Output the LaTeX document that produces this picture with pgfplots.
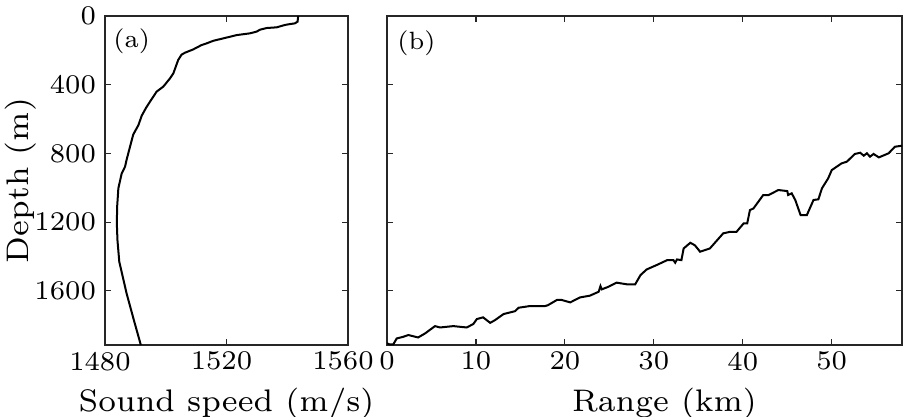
\documentclass[border=0pt]{standalone}
\usepackage{fontspec}
\setmainfont{lmroman7-regular.otf}
\usepackage{pgfplots}
\pgfplotsset{compat=1.18}

\definecolor{axgray}{rgb}{0.15,0.15,0.15}

\pgfplotsset{
  panel/.style={
    scale only axis, height=164.5pt,
    y dir=reverse, ymin=0, ymax=1915,
    ytick={0,400,800,1200,1600},
    axis line style={axgray, line width=0.6pt},
    every tick/.style={axgray, line width=0.6pt},
    tick align=inside, major tick length=3pt,
    /pgf/number format/assume math mode=true,
    /pgf/number format/1000 sep={},
    tick label style={font=\fontsize{13.5}{15}\selectfont},
    yticklabel style={xshift=-1pt},
    label style={font=\fontsize{15.6}{18}\selectfont},
    xlabel style={at={(axis description cs:0.5,0)}, anchor=base, yshift=-33pt},
  },
}

\begin{document}
\begin{tikzpicture}
\begin{axis}[panel, width=121.5pt, at={(0,0)},
  xmin=1480, xmax=1560, xtick={1480,1520,1560},
  xticklabel style={xshift=-2.5pt},
  xlabel={Sound speed (m/s)}, ylabel={Depth (m)},
  ylabel style={yshift=-8pt}]
\addplot[black, line width=1pt] coordinates {
  (1543.6,0) (1543.4,33) (1542.5,43) (1540.9,47) (1539.3,52) (1536.5,66)
  (1533.2,70) (1531.0,80) (1529.9,91) (1527.7,101) (1523.4,111) (1519.0,130)
  (1515.7,144) (1513.5,159) (1511.8,169) (1509.1,194) (1506.3,214) (1505.2,225)
  (1504.1,256) (1502.5,334) (1501.4,363) (1499.2,411) (1497.0,440) (1494.8,499)
  (1493.5,535) (1492.1,580) (1491.0,635) (1489.3,690) (1488.1,770) (1487.1,838)
  (1486.6,877) (1485.5,916) (1484.4,1003) (1484.0,1110) (1483.9,1207)
  (1484.1,1304) (1484.7,1430) (1487.1,1614) (1489.5,1770) (1491.8,1915) };
\node[anchor=north west, font=\fontsize{12.5}{14}\selectfont, inner sep=0pt,
  xshift=4pt, yshift=-6pt] at (rel axis cs:0,1) {(a)};
\end{axis}

\begin{axis}[panel, width=257.5pt, at={(141pt,0)},
  xmin=0, xmax=57.9, xtick={0,10,20,30,40,50},
  yticklabels={}, xlabel={Range (km)},
  xlabel style={xshift=10pt}]
\addplot[black, line width=1pt] coordinates {
  (0,1905) (0.3,1912) (0.7,1912) (1.09,1877) (1.84,1867) (2.4,1857)
  (3.5,1871) (4.27,1848) (5.4,1805) (5.96,1813) (7.46,1805) (8.96,1813)
  (9.7,1793) (10.1,1764) (10.8,1754) (11.6,1786) (12.15,1770) (13.1,1735)
  (14.4,1718) (14.8,1698) (16.1,1688) (17.8,1688) (18.1,1683) (19.1,1653)
  (19.65,1653) (20.6,1667) (21.7,1638) (22.8,1628) (23.8,1605) (24.0,1572)
  (24.15,1591) (24.9,1576) (25.8,1552) (27.0,1562) (27.9,1562) (28.5,1508)
  (29.2,1475) (30.3,1450) (31.5,1421) (32.2,1421) (32.4,1436) (32.6,1417)
  (33.1,1421) (33.35,1353) (34.1,1320) (34.6,1334) (35.0,1359) (35.2,1372)
  (36.3,1353) (37.8,1265) (38.6,1256) (39.3,1256) (40.1,1207) (40.5,1207)
  (40.8,1130) (41.2,1120) (42.3,1042) (42.9,1042) (44.0,1013) (45.0,1019)
  (45.1,1042) (45.5,1032) (45.9,1071) (46.5,1159) (47.2,1159) (47.95,1071)
  (48.5,1067) (48.9,1003) (49.6,945) (50.0,897) (51.1,858) (51.7,848)
  (52.6,803) (53.2,796) (53.6,813) (53.95,799) (54.3,819) (54.7,803)
  (55.3,823) (56.4,799) (57.1,761) (57.9,755) };
\node[anchor=north west, font=\fontsize{12.5}{14}\selectfont, inner sep=0pt,
  xshift=5pt, yshift=-7pt] at (rel axis cs:0,1) {(b)};
\end{axis}
\pgfresetboundingbox
\path[use as bounding box] (-52.5pt,-36pt) rectangle (400pt,172.5pt);
\end{tikzpicture}
\end{document}
